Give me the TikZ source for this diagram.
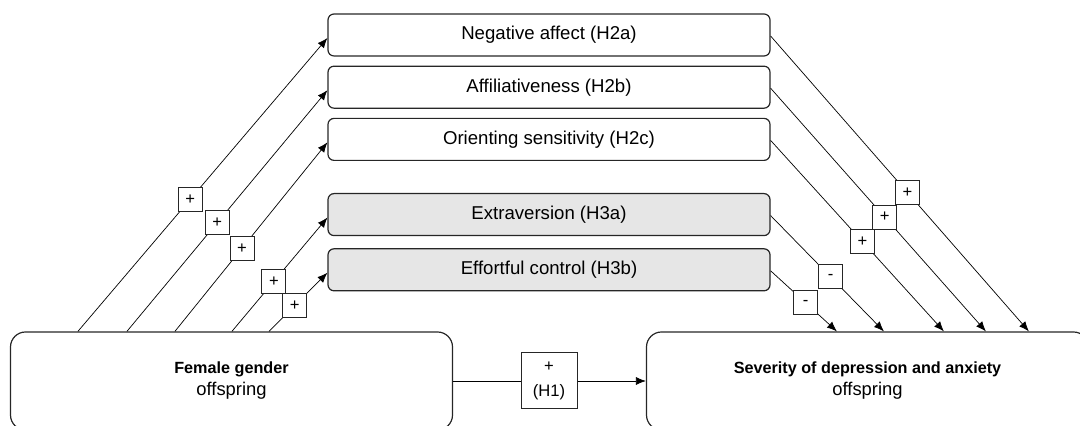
\documentclass[tikz,border=0pt]{standalone}
\usepackage{fontspec}
\setmainfont{Liberation Sans}
\usepackage{tikz}
\usetikzlibrary{arrows.meta,positioning,calc}
\definecolor{traitGray}{HTML}{E6E6E6}
\newcommand{\vartitle}[1]{{\fontsize{8.1}{11}\selectfont\textbf{#1}}}

\begin{document}
\begin{tikzpicture}[x=0.5pt,y=0.5pt,font=\fontsize{8.3}{11}\selectfont,
   trait/.style={draw=black!85,rounded corners=3pt,line width=0.6pt,
                 minimum width=221pt,minimum height=21pt,inner sep=0pt,
                 font=\fontsize{9.3}{11}\selectfont},
   var/.style={draw=black!85,rounded corners=7.5pt,line width=0.6pt,
               minimum width=221pt,minimum height=49pt,align=center,
               font=\fontsize{9.2}{11}\selectfont},
   sign/.style={draw=black!85,fill=white,line width=0.5pt,
                minimum size=12pt,inner sep=0pt},
   link/.style={line width=0.35pt,-{Latex[length=5pt,width=4pt]}}]
  \useasboundingbox (0,0) rectangle (1080,426);
  \clip (0,0) rectangle (1080,426);
  % temperament traits
  \node[trait] (neg) at (549,391) {Negative affect (H2a)};
  \node[trait,below=4.5pt of neg] (aff) {Affiliativeness (H2b)};
  \node[trait,below=4.5pt of aff] (ori) {Orienting sensitivity (H2c)};
  \node[trait,fill=traitGray,below=16pt of ori] (ext) {Extraversion (H3a)};
  \node[trait,fill=traitGray,below=6pt of ext] (eff) {Effortful control (H3b)};
  % predictor and outcome
  \node[var] (gender) at (231.5,45) {\vartitle{Female gender}\\offspring};
  \node[var] (severity) at (867.5,45) {\vartitle{Severity of depression and anxiety}\\offspring};
  \node[sign,minimum size=28pt,align=center,font=\fontsize{8.3}{12.5}\selectfont]
    (h1) at (549,45) {+\\(H1)};
  \draw[line width=0.35pt] (gender) -- (h1);
  \draw[link] (h1) -- (severity);
  % gender -> traits
  \foreach \m/\dx/\p in {neg/34/0.45,aff/58.5/0.45,ori/82.5/0.44,ext/111/0.44,eff/129.5/0.44}
    \draw[link] ([xshift=\dx pt]gender.north west) -- ([yshift=-1.5pt]\m.west)
      node[sign,pos=\p] {+};
  % traits -> severity
  \foreach \m/\dx/\s in {neg/191.5/+,aff/170/+,ori/149/+,ext/119/-,eff/95.5/-}
    \draw[link] ([yshift=-0.5pt]\m.east) -- ([xshift=\dx pt]severity.north west)
      node[sign,pos=0.53] {\s};
\end{tikzpicture}
\end{document}
